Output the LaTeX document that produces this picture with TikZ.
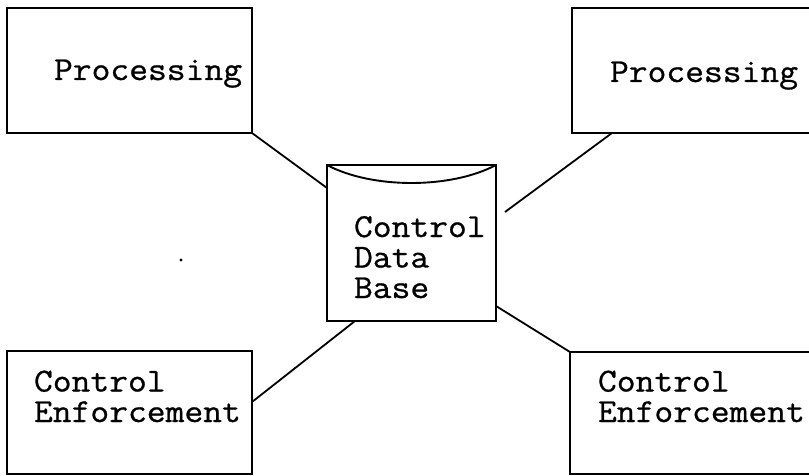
\documentclass[tikz,border=0pt]{standalone}
\usepackage{fontspec}
\newfontfamily\typefont{Latin Modern Mono}[FakeStretch=1.09, FakeBold=0.8]
\usetikzlibrary{calc}
\begin{document}
\begin{tikzpicture}[x=1pt, y=-1pt,
  box/.style={draw, line width=1.9pt, rectangle, inner sep=0pt, outer sep=0pt},
  lbl/.style={font=\typefont\fontsize{33.5}{30.5}\selectfont, anchor=base west,
    align=left, inner sep=0pt, outer sep=0pt},
  link/.style={line width=1.8pt}]
\clip (0,0) rectangle (809,476);
\fill[white] (0,0) rectangle (809,476);

% processing units
\node[box, minimum width=245pt, minimum height=125pt] (tl) at (129.5,70.5) {};
\node[box, minimum width=328pt, minimum height=125pt] (tr) at (736,70.5) {};
% enforcement units
\node[box, minimum width=245pt, minimum height=123pt] (bl) at (129.5,412.5) {};
\node[box, minimum width=330pt, minimum height=122pt] (br) at (735,413) {};
% central data store
\node[box, minimum width=169pt, minimum height=156pt] (db) at (411.5,243) {};
\draw[line width=1.9pt] (db.north west)
  .. controls ($(db.north west)+(45,24)$) and ($(db.north east)+(-45,24)$) .. (db.north east);

% labels (multi-line labels are anchored on the baseline of their last line)
\node[lbl] (tltext) at (54,80) {Processing};
\node[lbl] (trtext) at (610,82) {Processing};
\node[lbl] (dbtext) at (354,298) {Control\\Data\\Base};
\node[lbl] (bltext) at (34,422) {Control\\Enforcement};
\node[lbl] (brtext) at (598,422) {Control\\Enforcement};

% connectors
\coordinate (trend) at (505,212);
\draw[link] (tl.south east) -- ($(db.north west)+(0,23)$);
\draw[link] ($(tr.south west)+(40,0)$) -- (trend);
\draw[link] ($(bl.north east)+(0,51)$) -- ($(db.south west)+(28,0)$);
\draw[link] ($(db.south east)+(0,-15)$) -- (br.north west);

% small speck
\fill (181,260) circle (1.6pt);
\end{tikzpicture}
\end{document}
